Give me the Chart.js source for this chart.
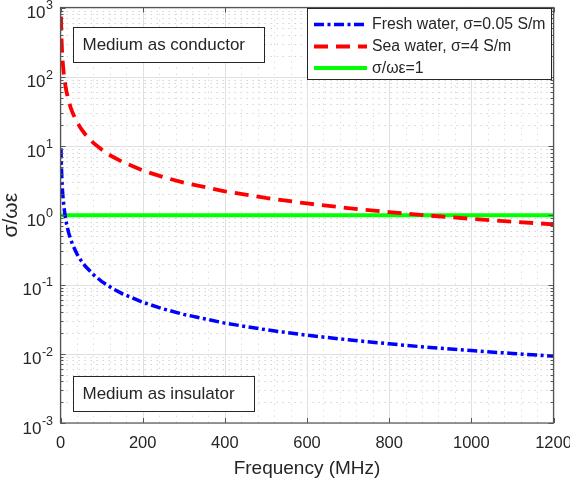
<!DOCTYPE html>
<html>
<head>
<meta charset="utf-8">
<script src="https://cdn.jsdelivr.net/npm/chart.js@4/dist/chart.umd.min.js"></script>
<style>
html,body{margin:0;padding:0;background:#fff;}
canvas{display:block;}
</style>
</head>
<body>
<canvas id="c" width="570" height="480"></canvas>
<script>
// ---- data ----
const freqMHz = [1.2, 2, 3, 4, 5, 6, 8, 10, 12, 15, 20, 25, 30, 40, 50, 60, 80, 100, 125, 150, 200, 250, 300, 400, 500, 600, 700, 800, 900, 1000, 1100, 1200];
const freshWater = [9.247, 5.548, 3.699, 2.774, 2.219, 1.849, 1.387, 1.110, 0.925, 0.740, 0.555, 0.444, 0.370, 0.277, 0.222, 0.185, 0.139, 0.111, 0.0888, 0.0740, 0.0555, 0.0444, 0.0370, 0.0277, 0.0222, 0.0185, 0.0159, 0.0139, 0.0123, 0.0111, 0.0101, 0.00925];
const seaWater = [739.8, 443.9, 295.9, 221.9, 177.5, 147.9, 111.0, 88.77, 73.98, 59.18, 44.39, 35.51, 29.59, 22.19, 17.75, 14.80, 11.10, 8.877, 7.102, 5.918, 4.439, 3.551, 2.959, 2.219, 1.775, 1.480, 1.268, 1.110, 0.986, 0.888, 0.807, 0.740];
const unityFreq = [0, 1200];
const unityVals = [1, 1];
const seriesNames = ['Fresh water, \u03c3=0.05 S/m', 'Sea water, \u03c3=4 S/m', '\u03c3/\u03c9\u03b5=1'];
const xTicks = [0, 200, 400, 600, 800, 1000, 1200];
const yExponents = [-3, -2, -1, 0, 1, 2, 3];
const xTitle = 'Frequency (MHz)';
const yTitle = '\u03c3/\u03c9\u03b5';
const notes = ['Medium as conductor', 'Medium as insulator'];

const FONT = '"Liberation Sans", Arial, Helvetica, sans-serif';
const TXT = '#262626';
const colors = ['#0000ff', '#ff0000', '#00ff00'];
const dashes = [[10, 3.5, 3, 3.5], [14, 8], []];
const widths = [3.5, 3.8, 4];

const pts = (xs, ys) => xs.map((x, i) => ({x: x, y: ys[i]}));

const matlabPlugin = {
  id: 'matlab',
  beforeDatasetsDraw(chart) {
    const ctx = chart.ctx, a = chart.chartArea, xs = chart.scales.x, ys = chart.scales.y;
    ctx.save();
    // minor grid (dotted)
    ctx.strokeStyle = '#d4d4d4';
    ctx.lineWidth = 1;
    ctx.setLineDash([1.5, 4.5]);
    for (let e = -3; e < 3; e++) {
      for (let m = 2; m <= 9; m++) {
        const y = Math.round(ys.getPixelForValue(m * Math.pow(10, e))) + 0.5;
        ctx.beginPath(); ctx.moveTo(a.left, y); ctx.lineTo(a.right, y); ctx.stroke();
      }
    }
    ctx.strokeStyle = '#dedede';
    for (let v = 40; v < 1200; v += 40) {
      if (v % 200 === 0) continue;
      const x = Math.round(xs.getPixelForValue(v)) + 0.5;
      ctx.beginPath(); ctx.moveTo(x, a.top); ctx.lineTo(x, a.bottom); ctx.stroke();
    }
    // major grid
    ctx.setLineDash([]);
    ctx.strokeStyle = '#e0e0e0';
    yExponents.forEach(e => {
      const y = Math.round(ys.getPixelForValue(Math.pow(10, e))) + 0.5;
      ctx.beginPath(); ctx.moveTo(a.left, y); ctx.lineTo(a.right, y); ctx.stroke();
    });
    xTicks.forEach(v => {
      const x = Math.round(xs.getPixelForValue(v)) + 0.5;
      ctx.beginPath(); ctx.moveTo(x, a.top); ctx.lineTo(x, a.bottom); ctx.stroke();
    });
    ctx.restore();
  },
  afterDatasetsDraw(chart) {
    const ctx = chart.ctx, a = chart.chartArea, xs = chart.scales.x, ys = chart.scales.y;
    ctx.save();
    // axes box
    ctx.strokeStyle = '#555555';
    ctx.lineWidth = 1.2;
    ctx.setLineDash([]);
    ctx.strokeRect(a.left, a.top, a.right - a.left, a.bottom - a.top);
    // tick marks
    ctx.lineWidth = 1;
    xTicks.forEach(v => {
      const x = Math.round(xs.getPixelForValue(v)) + 0.5;
      ctx.beginPath();
      ctx.moveTo(x, a.bottom); ctx.lineTo(x, a.bottom - 5);
      ctx.moveTo(x, a.top); ctx.lineTo(x, a.top + 5);
      ctx.stroke();
    });
    for (let e = -3; e <= 3; e++) {
      const y = Math.round(ys.getPixelForValue(Math.pow(10, e))) + 0.5;
      ctx.beginPath();
      ctx.moveTo(a.left, y); ctx.lineTo(a.left + 5, y);
      ctx.moveTo(a.right, y); ctx.lineTo(a.right - 5, y);
      ctx.stroke();
      if (e < 3) {
        for (let m = 2; m <= 9; m++) {
          const ym = Math.round(ys.getPixelForValue(m * Math.pow(10, e))) + 0.5;
          ctx.beginPath();
          ctx.moveTo(a.left, ym); ctx.lineTo(a.left + 3, ym);
          ctx.moveTo(a.right, ym); ctx.lineTo(a.right - 3, ym);
          ctx.stroke();
        }
      }
    }
    // x tick labels
    ctx.fillStyle = TXT;
    ctx.font = '16.5px ' + FONT;
    ctx.textAlign = 'center';
    ctx.textBaseline = 'middle';
    xTicks.forEach(v => ctx.fillText(String(v), xs.getPixelForValue(v), a.bottom + 20));
    // y tick labels 10^e
    yExponents.forEach(e => {
      const y = ys.getPixelForValue(Math.pow(10, e));
      const ex = e < 0 ? '-' + Math.abs(e) : String(e);
      ctx.font = '12.5px ' + FONT;
      ctx.textAlign = 'right';
      const w = ctx.measureText(ex).width;
      ctx.fillText(ex, 53, y - 1.5);
      ctx.font = '17px ' + FONT;
      ctx.fillText('10', 52.5 - w, y + 6);
    });
    // axis titles
    ctx.font = '19px ' + FONT;
    ctx.textAlign = 'center';
    ctx.textBaseline = 'middle';
    ctx.fillText(xTitle, (a.left + a.right) / 2, 469);
    ctx.save();
    ctx.translate(17, (a.top + a.bottom) / 2);
    ctx.rotate(-Math.PI / 2);
    ctx.font = '21px ' + FONT;
    ctx.textBaseline = 'alphabetic';
    ctx.fillText(yTitle, 0, 0);
    ctx.restore();
    // annotation boxes
    const boxes = [[73.5, 27.5, 191, 35], [73.5, 376.5, 181, 35]];
    ctx.font = '17px ' + FONT;
    ctx.textAlign = 'left';
    ctx.textBaseline = 'middle';
    boxes.forEach((b, i) => {
      ctx.fillStyle = '#ffffff';
      ctx.fillRect(b[0], b[1], b[2], b[3]);
      ctx.strokeStyle = '#262626';
      ctx.lineWidth = 1;
      ctx.strokeRect(b[0], b[1], b[2], b[3]);
      ctx.fillStyle = TXT;
      ctx.fillText(notes[i], b[0] + 9, b[1] + b[3] / 2 + 0.5);
    });
    // legend
    ctx.fillStyle = '#ffffff';
    ctx.fillRect(307.5, 8.5, 244, 71);
    ctx.strokeStyle = '#262626';
    ctx.strokeRect(307.5, 8.5, 244, 71);
    const rows = [24.5, 46.5, 68];
    ctx.font = '15.8px ' + FONT;
    chart.data.datasets.forEach((ds, i) => {
      const y = rows[i];
      ctx.strokeStyle = ds.borderColor;
      ctx.lineWidth = ds.borderWidth;
      ctx.setLineDash(ds.borderDash || []);
      ctx.beginPath(); ctx.moveTo(314, y); ctx.lineTo(367, y); ctx.stroke();
      ctx.setLineDash([]);
      ctx.fillStyle = TXT;
      ctx.fillText(ds.label, 372, y + 0.5);
    });
    ctx.restore();
  }
};

new Chart(document.getElementById('c'), {
  type: 'scatter',
  data: {
    datasets: [
      {label: seriesNames[0], data: pts(freqMHz, freshWater)},
      {label: seriesNames[1], data: pts(freqMHz, seaWater)},
      {label: seriesNames[2], data: pts(unityFreq, unityVals)}
    ].map((d, i) => Object.assign(d, {
      showLine: true, pointRadius: 0, borderColor: colors[i], backgroundColor: colors[i],
      borderWidth: widths[i], borderDash: dashes[i], tension: 0, fill: false
    }))
  },
  options: {
    responsive: false,
    devicePixelRatio: 1,
    animation: false,
    layout: {padding: {left: 0, right: 16.5, top: 7.5, bottom: 0}},
    plugins: {legend: {display: false}, tooltip: {enabled: false}},
    scales: {
      x: {type: 'linear', min: 0, max: 1200, ticks: {display: false}, grid: {display: false}, border: {display: false},
          afterFit(s) { s.height = 57; }},
      y: {type: 'logarithmic', min: 1e-3, max: 1e3, ticks: {display: false}, grid: {display: false}, border: {display: false},
          afterFit(s) { s.width = 60.5; }}
    }
  },
  plugins: [matlabPlugin]
});
</script>
</body>
</html>
